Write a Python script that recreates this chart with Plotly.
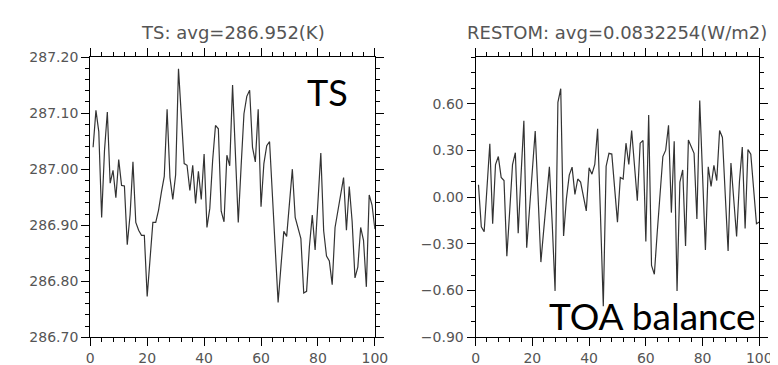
import plotly.graph_objects as go

years = list(range(1, 101))

ts_values = [
    287.039, 287.105, 287.067, 286.914, 287.033, 287.102, 286.975, 286.998, 286.949, 287.017,
    286.971, 286.970, 286.865, 286.919, 287.013, 286.905, 286.891, 286.882, 286.882, 286.773,
    286.839, 286.905, 286.905, 286.927, 286.959, 286.987, 287.107, 286.985, 286.946, 286.990,
    287.179, 287.082, 287.010, 287.007, 286.962, 287.007, 286.939, 286.996, 286.946, 287.027,
    286.896, 286.930, 287.016, 287.078, 287.072, 286.925, 286.906, 287.025, 287.006, 287.150,
    287.030, 286.905, 287.005, 287.099, 287.130, 287.141, 287.039, 287.013, 287.107, 286.933,
    287.010, 287.042, 287.049, 286.953, 286.856, 286.762, 286.827, 286.889, 286.880, 286.942,
    287.000, 286.914, 286.896, 286.876, 286.779, 286.782, 286.862, 286.918, 286.856, 286.942,
    287.029, 286.890, 286.845, 286.836, 286.794, 286.896, 286.925, 286.953, 286.985, 286.891,
    286.969, 286.907, 286.806, 286.825, 286.896, 286.873, 286.790, 286.954, 286.936, 286.893,
]

restom_values = [
    0.080, -0.191, -0.222, 0.100, 0.343, -0.171, 0.210, 0.261, 0.127, 0.107,
    -0.380, -0.090, 0.210, 0.286, -0.232, 0.140, 0.491, -0.325, -0.070, 0.220,
    0.425, 0.010, -0.417, -0.210, 0.010, 0.195, -0.170, -0.602, 0.610, 0.697,
    -0.249, -0.010, 0.142, 0.193, 0.018, 0.117, 0.097, 0.014, -0.088, 0.189,
    0.148, 0.210, 0.440, -0.110, -0.700, 0.199, 0.282, 0.277, 0.055, -0.160,
    0.127, 0.117, 0.347, 0.210, 0.429, 0.200, -0.023, 0.347, 0.364, -0.284,
    0.528, -0.438, -0.495, -0.230, 0.035, 0.261, 0.302, 0.462, -0.099, 0.360,
    -0.602, 0.097, 0.175, -0.314, 0.368, 0.323, 0.282, -0.140, 0.621, 0.140,
    -0.339, 0.195, 0.070, 0.205, 0.107, 0.429, 0.384, 0.014, -0.345, 0.220,
    -0.010, -0.253, 0.101, 0.323, -0.201, 0.306, 0.277, 0.055, -0.171, -0.160,
]

x_tickvals = [0, 20, 40, 60, 80, 100]
x_ticktext = ["0", "20", "40", "60", "80", "100"]
ts_tickvals = [286.70, 286.80, 286.90, 287.00, 287.10, 287.20]
ts_ticktext = ["286.70", "286.80", "286.90", "287.00", "287.10", "287.20"]
restom_tickvals = [-0.9, -0.6, -0.3, 0.0, 0.3, 0.6]
restom_ticktext = ["\u22120.90", "\u22120.60", "\u22120.30", "0.00", "0.30", "0.60"]

titles = ["TS: avg=286.952(K)", "RESTOM: avg=0.0832254(W/m2)"]
labels = ["TS", "TOA balance"]

W, H = 778, 365
line_style = dict(color="#333333", width=1.2)

fig = go.Figure()
fig.add_trace(go.Scatter(x=years, y=ts_values, mode="lines", line=line_style,
                         xaxis="x", yaxis="y", showlegend=False, hoverinfo="skip"))
fig.add_trace(go.Scatter(x=years, y=restom_values, mode="lines", line=line_style,
                         xaxis="x2", yaxis="y2", showlegend=False, hoverinfo="skip"))

tick_font = dict(family="DejaVu Sans", size=14, color="#555555")


def axis(**kw):
    base = dict(showline=True, linecolor="black", linewidth=1.2, mirror="ticks",
                ticks="outside", ticklen=8, tickwidth=1, tickcolor="black",
                showgrid=False, zeroline=False, tickfont=tick_font, fixedrange=True)
    base.update(kw)
    return base


xmin = dict(ticks="outside", ticklen=4, tickwidth=1, tickcolor="black",
            showgrid=False, tickmode="linear", tick0=0, dtick=4)

px_l0, px_l1 = 80, 371
px_r0, px_r1 = 474, 764
py_top, py_bot = 43, 336

fig.update_layout(
    width=W, height=H,
    margin=dict(l=0, r=0, t=0, b=0),
    paper_bgcolor="white", plot_bgcolor="white",
    xaxis=axis(domain=[px_l0 / W, px_l1 / W], range=[0, 100], anchor="y",
               tickmode="array", tickvals=x_tickvals, ticktext=x_ticktext, minor=xmin),
    yaxis=axis(domain=[1 - py_bot / H, 1 - py_top / H], range=[286.7, 287.2], anchor="x",
               tickmode="array", tickvals=ts_tickvals, ticktext=ts_ticktext,
               minor=dict(ticks="outside", ticklen=4, tickwidth=1, tickcolor="black",
                          showgrid=False, tickmode="linear", tick0=286.7, dtick=0.02)),
    xaxis2=axis(domain=[px_r0 / W, px_r1 / W], range=[0, 100], anchor="y2",
                tickmode="array", tickvals=x_tickvals, ticktext=x_ticktext, minor=xmin),
    yaxis2=axis(domain=[1 - py_bot / H, 1 - py_top / H], range=[-0.9, 0.9], anchor="x2",
                tickmode="array", tickvals=restom_tickvals, ticktext=restom_ticktext,
                minor=dict(ticks="outside", ticklen=4, tickwidth=1, tickcolor="black",
                           showgrid=False, tickmode="linear", tick0=-0.9, dtick=0.1)),
)

title_font = dict(family="DejaVu Sans", size=18, color="#555555")
fig.add_annotation(text=titles[0], xref="paper", yref="paper",
                   x=(px_l0 + px_l1) / 2 / W, y=1 - 17 / H, xanchor="center", yanchor="middle",
                   showarrow=False, font=title_font)
fig.add_annotation(text=titles[1], xref="paper", yref="paper",
                   x=(px_r0 + px_r1) / 2 / W, y=1 - 17 / H, xanchor="center", yanchor="middle",
                   showarrow=False, font=title_font)

label_font = dict(family="Lato", size=36, color="black")
fig.add_annotation(text=labels[0], xref="paper", yref="paper",
                   x=323 / W, y=1 - 80 / H, xanchor="center", yanchor="middle",
                   showarrow=False, font=label_font)
fig.add_annotation(text=labels[1], xref="paper", yref="paper",
                   x=655 / W, y=1 - 313 / H, xanchor="center", yanchor="middle",
                   showarrow=False, font=dict(family="Lato", size=37, color="black"))

fig.write_html("out.html", config={"displayModeBar": False})
